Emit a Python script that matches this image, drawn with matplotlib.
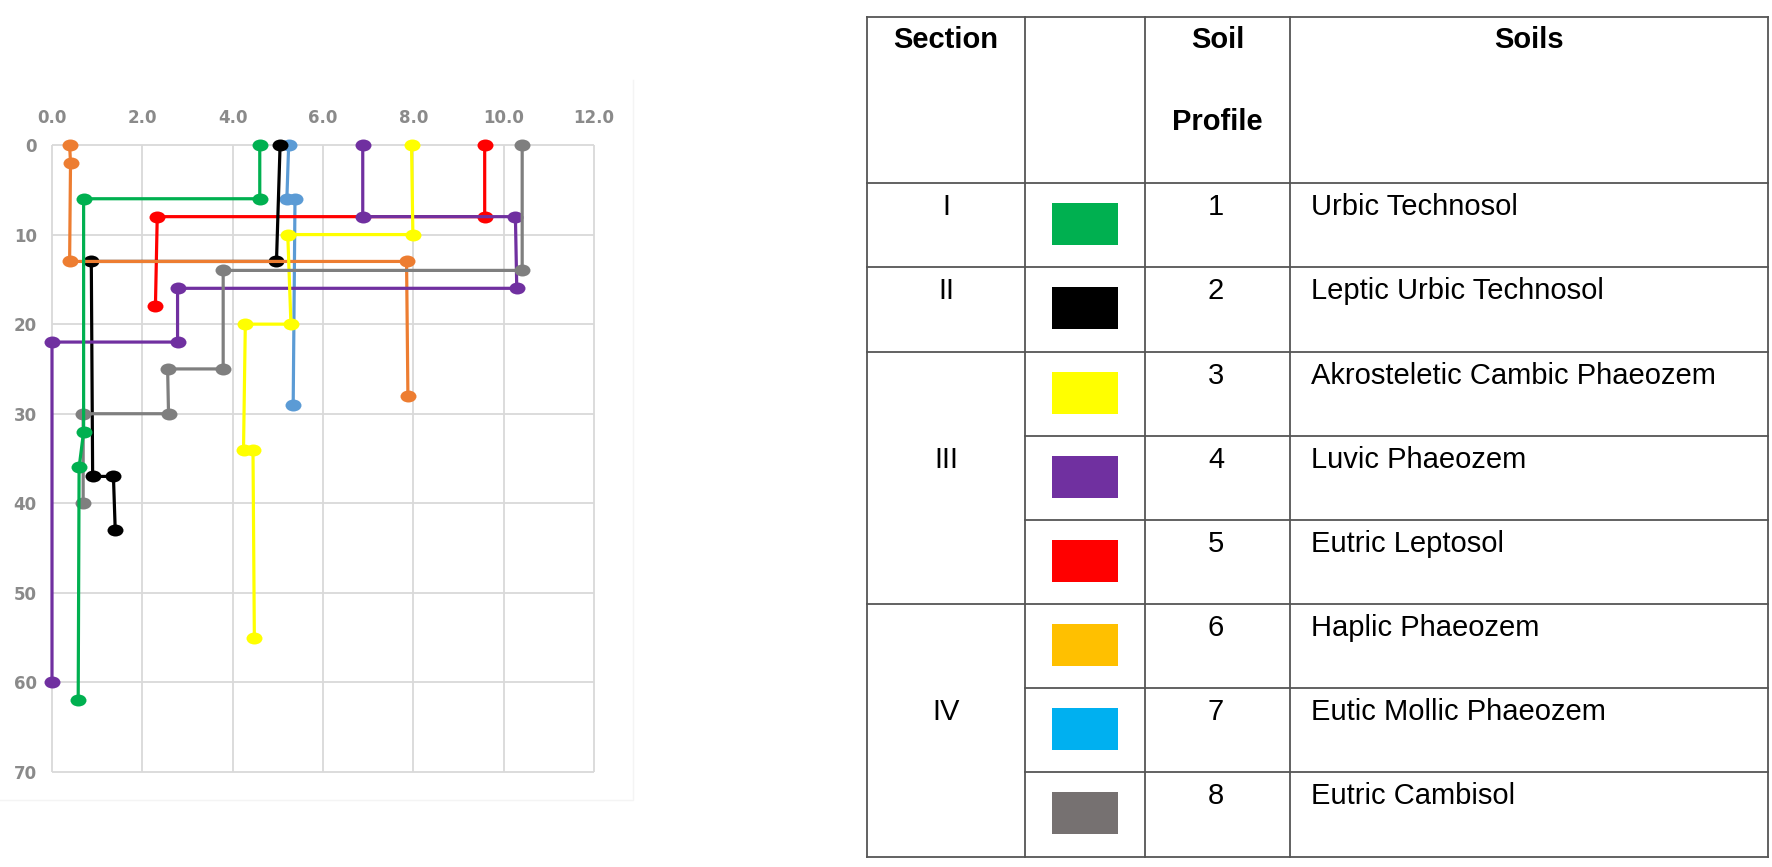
import matplotlib
matplotlib.use("Agg")
import matplotlib.pyplot as plt
from matplotlib.path import Path
from matplotlib.patches import Rectangle

W, H = 1772, 867

# --- данные профилей (ось X сверху, глубина вниз) ---
x_p1 = [4.6, 4.6, 0.7, 0.7, 0.6, 0.58]
y_p1 = [0, 6, 6, 32, 36, 62]
x_p2 = [5.05, 4.97, 0.87, 0.9, 1.36, 1.4]
y_p2 = [0, 13, 13, 37, 37, 43]
x_p3 = [7.96, 7.99, 5.22, 5.29, 4.28, 4.24, 4.45, 4.48]
y_p3 = [0, 10, 10, 20, 20, 34, 34, 55]
x_p4 = [6.88, 6.88, 10.26, 10.29, 2.78, 2.78, 0.0, 0.0]
y_p4 = [0, 8, 8, 16, 16, 22, 22, 60]
x_p5 = [9.58, 9.58, 2.33, 2.29]
y_p5 = [0, 8, 8, 18]
x_p6 = [0.39, 0.41, 0.39, 7.85, 7.88]
y_p6 = [0, 2, 13, 13, 28]
x_p7 = [5.24, 5.2, 5.38, 5.34]
y_p7 = [0, 6, 6, 29]
x_p8 = [10.41, 10.41, 3.79, 3.79, 2.56, 2.58, 0.69, 0.69]
y_p8 = [0, 14, 14, 25, 25, 30, 30, 40]

line_colors = ["#00B050", "#000000", "#FFFF00", "#7030A0",
               "#FF0000", "#ED7D31", "#5B9BD5", "#7F7F7F"]

# --- данные таблицы ---
sections = ["I", "II", "III", "IV"]
section_rows = [1, 1, 3, 3]
profile_numbers = ["1", "2", "3", "4", "5", "6", "7", "8"]
soil_names = ["Urbic Technosol", "Leptic Urbic Technosol",
              "Akrosteletic Cambic Phaeozem", "Luvic Phaeozem",
              "Eutric Leptosol", "Haplic Phaeozem",
              "Eutic Mollic Phaeozem", "Eutric Cambisol"]
swatch_colors = ["#00B050", "#000000", "#FFFF00", "#7030A0",
                 "#FF0000", "#FFC000", "#00B0F0", "#767171"]
header = ["Section", "", "Soil\n\nProfile", "Soils"]

fig = plt.figure(figsize=(W / 100, H / 100), dpi=100)

# faint chart area border
bg = fig.add_axes([0, 0, 1, 1])
bg.set_xlim(0, W)
bg.set_ylim(H, 0)
bg.axis("off")
bg.plot([633, 633, 0], [80, 800, 800], color="#f4f4f4", lw=1)

# --- график ---
ax = fig.add_axes([52 / W, 1 - 772 / H, 542 / W, 627 / H])
ax.set_xlim(0, 12)
ax.set_ylim(70, 0)
xt = list(range(0, 13, 2))
yt = list(range(0, 71, 10))
ax.vlines(xt, 0, 70, color="#d9d9d9", lw=1.3, clip_on=False, zorder=0)
ax.hlines(yt, 0, 12, color="#d9d9d9", lw=1.3, clip_on=False, zorder=0)
for s in ax.spines.values():
    s.set_visible(False)
ax.xaxis.tick_top()
ax.set_xticks(xt)
ax.set_xticklabels([f"{v:.1f}" for v in xt])
ax.set_yticks(yt)
ax.set_yticklabels([str(v) for v in yt])
ax.tick_params(length=0, labelsize=12, labelcolor="#8a8a8a")
ax.tick_params(axis="x", pad=13)
ax.tick_params(axis="y", pad=11)
for lab in ax.get_xticklabels() + ax.get_yticklabels():
    lab.set_fontweight("bold")

circ = Path.unit_circle()
ellipse = Path(circ.vertices * [1.0, 0.75], circ.codes)

# порядок отрисовки (нижние серии первыми)
series = [(x_p7, y_p7), (x_p5, y_p5), (x_p2, y_p2), (x_p6, y_p6),
          (x_p4, y_p4), (x_p3, y_p3), (x_p8, y_p8), (x_p1, y_p1)]
order = [6, 4, 1, 5, 3, 2, 7, 0]
for (xs, ys), i in zip(series, order):
    ax.plot(xs, ys, color=line_colors[i], lw=2.3, marker=ellipse,
            ms=11.5, mew=0, clip_on=False, solid_capstyle="butt")

# --- таблица ---
col_x = [867, 1025, 1145, 1290, 1768]
row_y = [17, 183, 267, 352, 436, 520, 604, 688, 772, 857]
lc = "#555555"
lw = 1.3
fnt = "Liberation Sans"

for x in col_x:
    bg.plot([x, x], [row_y[0], row_y[-1]], color=lc, lw=lw)
bg.plot([col_x[0], col_x[-1]], [row_y[0]] * 2, color=lc, lw=lw)
bg.plot([col_x[0], col_x[-1]], [row_y[1]] * 2, color=lc, lw=lw)
bounds = []
acc = 0
for n in section_rows:
    acc += n
    bounds.append(acc)
for r in range(1, 9):
    y = row_y[r + 1]
    x0 = col_x[0] if r in bounds else col_x[1]
    bg.plot([x0, col_x[-1]], [y, y], color=lc, lw=lw)

ty = 40
bg.text((col_x[0] + col_x[1]) / 2, ty, header[0], ha="center", va="center",
        fontsize=21, fontweight="bold", family=fnt)
bg.text((col_x[2] + col_x[3]) / 2, ty, "Soil", ha="center", va="center",
        fontsize=21, fontweight="bold", family=fnt)
bg.text((col_x[2] + col_x[3]) / 2, 122, "Profile", ha="center", va="center",
        fontsize=21, fontweight="bold", family=fnt)
bg.text((col_x[3] + col_x[4]) / 2, ty, header[3], ha="center", va="center",
        fontsize=21, fontweight="bold", family=fnt)

for i in range(8):
    top = row_y[i + 1]
    bg.text(1216, top + 24, profile_numbers[i], ha="center", va="center",
            fontsize=21, family=fnt)
    bg.text(1311, top + 24, soil_names[i], ha="left", va="center",
            fontsize=21, family=fnt)
    bg.add_patch(Rectangle((1052, top + 20), 66, 42, color=swatch_colors[i], lw=0))

start = 0
for s, n in zip(sections, section_rows):
    mid = start + n // 2
    bg.text((col_x[0] + col_x[1]) / 2, row_y[mid + 1] + 24, s, ha="center",
            va="center", fontsize=21, family=fnt)
    start += n

fig.savefig("out.png", dpi=100)
